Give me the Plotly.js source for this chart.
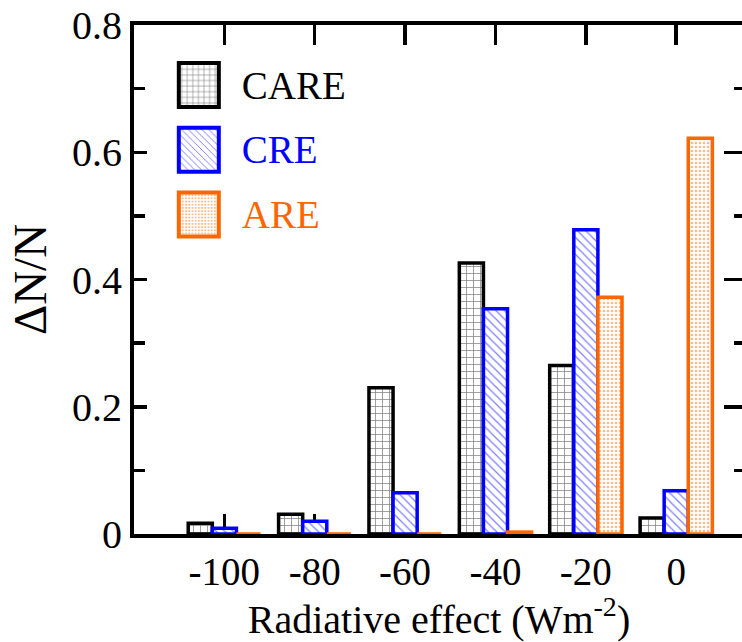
<!DOCTYPE html>
<html>
<head>
<meta charset="utf-8">
<script src="https://cdn.plot.ly/plotly-3.0.1.min.js"></script>
<style>
html,body{margin:0;padding:0;background:#fff;overflow:hidden;width:742px;height:642px;}
#chart{width:746px;height:642px;}
</style>
</head>
<body>
<div id="chart"></div>
<script>
// ---- data ----
var categories = [-100, -80, -60, -40, -20, 0];
var tickLabels = ['-100', '-80', '-60', '-40', '-20', '0'];
var careValues = [0.017, 0.031, 0.230, 0.426, 0.265, 0.025];
var creValues  = [0.009, 0.020, 0.065, 0.354, 0.478, 0.068];
var areValues  = [0.000, 0.000, 0.000, 0.003, 0.372, 0.622];
var seriesNames = ['CARE', 'CRE', 'ARE'];

var FONT = 'Liberation Serif, Times New Roman, serif';
var BLUE = '#0000ff', ORANGE = '#ff6600';

var data = [
  {type:'bar', x:categories, y:careValues, name:seriesNames[0], legendgroup:'a',
   marker:{color:'white', line:{color:'black', width:3.5},
           pattern:{shape:'+', fgcolor:'black', bgcolor:'white', size:7, solidity:0.2, fillmode:'overlay'}}},
  {type:'bar', x:categories, y:creValues, name:'<span style="color:'+BLUE+'">'+seriesNames[1]+'</span>', legendgroup:'b',
   marker:{color:'white', line:{color:BLUE, width:3.5},
           pattern:{shape:'\\', fgcolor:'#5050ff', bgcolor:'white', size:6, solidity:0.2, fgopacity:0.75, fillmode:'overlay'}}},
  {type:'bar', x:categories, y:areValues, name:'<span style="color:'+ORANGE+'">'+seriesNames[2]+'</span>', legendgroup:'c',
   marker:{color:'white', line:{color:ORANGE, width:3.5},
           pattern:{shape:'.', fgcolor:ORANGE, bgcolor:'white', size:4, solidity:0.35, fgopacity:0.45, fillmode:'overlay'}}},
  {type:'scatter', x:[null], y:[null], yaxis:'y2', showlegend:false, hoverinfo:'skip', mode:'markers'}
];

var layout = {
  width:746, height:642,
  margin:{l:134, r:2, t:25, b:108},
  paper_bgcolor:'white', plot_bgcolor:'white',
  barmode:'group', bargap:0.2, bargroupgap:0,
  font:{family:FONT, color:'black', size:38},
  showlegend:true,
  legend:{x:0.062, y:0.948, xanchor:'left', yanchor:'top', bgcolor:'rgba(0,0,0,0)',
          itemwidth:60,
          font:{family:FONT, size:39, color:'black'}, tracegroupgap:11, traceorder:'grouped'},
  xaxis:{range:[-120, 15], tickvals:categories, ticktext:tickLabels,
         ticks:'inside', ticklen:20, tickwidth:3.5, tickcolor:'black',
         showline:true, linewidth:4, linecolor:'black', mirror:'ticks',
         layer:'below traces', showgrid:false, zeroline:false,
         tickfont:{family:FONT, size:39, color:'black'},
         title:{text:'Radiative effect (Wm<sup style="font-size:70%">-2</sup>)', font:{family:FONT, size:40, color:'black'}, standoff:6}},
  yaxis:{range:[0, 0.8], tick0:0, dtick:0.2,
         ticks:'inside', ticklen:13, tickwidth:3.5, tickcolor:'black',
         minor:{dtick:0.1, ticks:'inside', ticklen:11, tickwidth:3.5, tickcolor:'black'},
         showline:true, linewidth:4, linecolor:'black',
         showgrid:false, zeroline:false,
         tickfont:{family:FONT, size:40, color:'black'},
         title:{text:'ΔN/N', font:{family:FONT, size:47, color:'black'}, standoff:12}},
  yaxis2:{overlaying:'y', side:'right', anchor:'x', range:[0, 0.8], tick0:0, dtick:0.2,
          ticks:'inside', ticklen:20, tickwidth:3.5, tickcolor:'black',
          minor:{dtick:0.1, ticks:'inside', ticklen:10, tickwidth:3.5, tickcolor:'black'},
          showline:true, linewidth:4, linecolor:'black', showticklabels:false,
          showgrid:false, zeroline:false}
};

Plotly.newPlot('chart', data, layout, {staticPlot:true, displayModeBar:false}).then(function(gd){
  var SW_W = 40, SW_H = 44, SW_GAP = 23;
  var items = gd.querySelectorAll('.legend .traces');
  items.forEach(function(g){
    var text = g.querySelector('text.legendtext');
    var path = g.querySelector('.legendpoints path');
    if(!text || !path) return;
    var tb = text.getBoundingClientRect();
    var m = path.getScreenCTM();
    var right = tb.left - SW_GAP, left = right - SW_W;
    var cy = (tb.top + tb.bottom) / 2;
    var x0 = left - m.e, x1 = right - m.e, y0 = cy - SW_H/2 - m.f, y1 = cy + SW_H/2 - m.f;
    path.setAttribute('d', 'M'+x1+','+y1+'H'+x0+'V'+y0+'H'+x1+'Z');
    path.style.strokeWidth = '4px';
  });
  var clips = gd.querySelectorAll('.legend .scrollbox');
  clips.forEach(function(s){ s.removeAttribute('clip-path'); });
});
</script>
</body>
</html>
